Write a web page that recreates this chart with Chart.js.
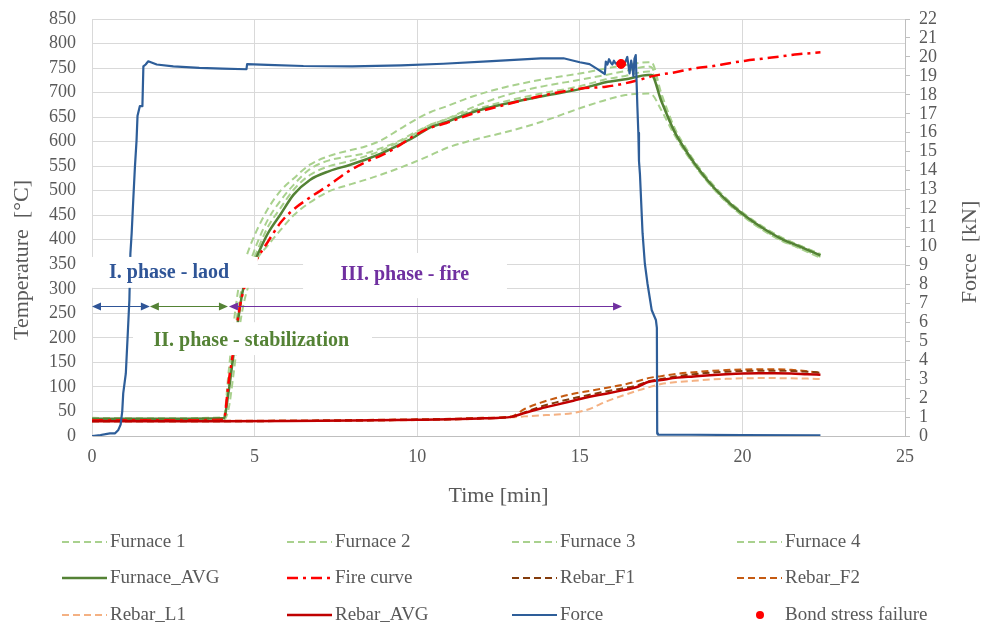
<!DOCTYPE html>
<html>
<head>
<meta charset="utf-8">
<script src="https://cdn.jsdelivr.net/npm/chart.js@4.4.1/dist/chart.umd.min.js"></script>
<style>
html,body{margin:0;padding:0;background:#ffffff;}
#wrap{width:983px;height:625px;}
</style>
</head>
<body>
<div id="wrap"><canvas id="c" width="983" height="625"></canvas></div>
<script>
// ---------- DATA ----------
const timeFurnace = [0, 2, 4.05, 4.2, 4.35, 4.5, 4.65, 4.85, 5.06, 5.4, 5.8, 6.2, 6.7, 7.3, 7.9, 8.4, 8.9, 9.4, 9.9, 10.4, 10.9, 11.7, 12.7, 13.8, 15.0, 15.8, 16.4, 17.1, 17.2, 17.5, 17.9, 18.2, 18.6, 19.1, 19.6, 20.1, 20.6, 21.2, 21.7, 22.4];
const furnace1 = [37, 36, 38, 130, 225, 300, 345, 385, 418, 462, 500, 525, 553, 571, 582, 590, 603, 623, 643, 660, 672, 692, 711, 726, 739, 749, 756, 762, 762, 700, 630, 594, 553, 512, 478, 451, 428, 405, 390, 370];
const furnace2 = [34, 34, 36, 105, 190, 262, 315, 352, 390, 440, 480, 512, 544, 562, 570, 576, 587, 600, 618, 634, 646, 670, 694, 712, 726, 736, 744, 753, 752, 693, 627, 591, 552, 511, 477, 450, 427, 404, 390, 371];
const furnace3 = [33, 33, 35, 95, 172, 248, 305, 342, 375, 425, 465, 502, 532, 550, 560, 570, 582, 598, 615, 634, 646, 664, 682, 698, 713, 727, 734, 743, 742, 688, 620, 585, 546, 505, 472, 445, 422, 399, 385, 365];
const furnace4 = [32, 32, 33, 55, 125, 205, 265, 315, 358, 388, 420, 450, 476, 499, 512, 522, 533, 545, 558, 572, 587, 603, 619, 640, 668, 685, 695, 698, 697, 665, 615, 583, 545, 505, 471, 444, 421, 398, 384, 363];
const furnaceAvg = [35, 35, 36, 90, 165, 240, 300, 335, 365, 412, 452, 492, 522, 540, 552, 563, 576, 592, 609, 629, 640, 660, 677, 692, 707, 721, 727, 736, 736, 684, 622, 588, 549, 508, 475, 448, 425, 402, 388, 368];
const fireCurve = [32, 32, 33, 110, 175, 245, 295, 330, 359, 395, 435, 462, 486, 512, 540, 558, 572, 590, 612, 628, 638, 657, 675, 693, 708, 712, 719, 731, 733, 737, 741, 745, 750, 754, 760, 765, 769, 774, 778, 782];

const timeRebar = [0, 2, 4, 6, 8, 10, 11, 12, 12.9, 13.3, 13.8, 14.3, 14.8, 15.3, 15.8, 16.3, 16.8, 17.1, 17.5, 18, 18.5, 19, 19.5, 20, 20.5, 21, 21.5, 22, 22.4];
const rebarF1 = [30, 30, 30, 30.5, 31.5, 33, 34, 36, 39, 48, 60, 69, 77, 84, 91, 97, 104, 111, 116, 122, 126, 129, 131, 132.5, 133, 133, 132.5, 131, 129];
const rebarF2 = [31, 31, 31, 31.5, 32.5, 34, 35, 37, 40, 55, 68, 78, 86, 92, 98, 104, 112, 118, 122, 127, 130, 132.5, 134.5, 135.5, 136, 136, 135, 132, 129];
const rebarL1 = [30, 30, 30, 30.5, 31, 32.5, 33.5, 35, 38, 40, 42, 44, 47, 55, 70, 82, 93, 99, 106, 110, 112.5, 115, 116.5, 117.5, 118, 118, 117.5, 117, 116];
const rebarAvg = [30, 30, 30, 30.5, 31.5, 33, 34, 36, 39, 47, 56, 64, 72, 80, 86, 93, 101, 110, 114, 119, 121.5, 124, 126, 127.5, 128, 128, 127.5, 126, 125];

const timeForce = [0, 0.26, 0.55, 0.71, 0.81, 0.88, 0.93, 0.96, 1.04, 1.1, 1.15, 1.18, 1.22, 1.27, 1.32, 1.37, 1.4, 1.47, 1.55, 1.58, 1.65, 1.73, 1.99, 2.5, 3.3, 4.0, 4.75, 4.77, 5.4, 6.5, 8, 9.5, 10.8, 12.3, 13.8, 14.5, 15.0, 15.3, 15.52, 15.7, 15.77, 15.8, 15.85, 15.9, 15.95, 16.0, 16.05, 16.1, 16.2, 16.3, 16.4, 16.46, 16.5, 16.53, 16.58, 16.62, 16.65, 16.68, 16.72, 16.75, 16.77, 16.8, 16.82, 16.85, 16.93, 17.0, 17.08, 17.21, 17.34, 17.37, 17.38, 17.4, 20, 22.4];
const forceKN = [0, 0.05, 0.14, 0.14, 0.32, 0.6, 1.3, 2.25, 3.3, 5.4, 7.2, 9.6, 10.7, 12.5, 14.2, 15.6, 16.9, 17.4, 17.4, 19.5, 19.6, 19.77, 19.6, 19.5, 19.42, 19.38, 19.35, 19.62, 19.58, 19.52, 19.5, 19.55, 19.64, 19.78, 19.92, 19.93, 19.72, 19.62, 19.38, 19.18, 19.1, 19.75, 19.6, 19.88, 19.7, 19.6, 19.8, 19.65, 19.7, 19.62, 19.73, 20.0, 19.5, 19.13, 19.8, 19.4, 18.97, 19.9, 20.1, 18.5, 17.4, 16.0, 14.5, 13.8, 10.7, 9.1, 8.06, 6.65, 6.12, 5.7, 0.14, 0.08, 0.05, 0.03];

const bondTime = [16.27];
const bondForce = [19.63];

const timeTicks = [0, 5, 10, 15, 20, 25];
const tempTicks = [0, 50, 100, 150, 200, 250, 300, 350, 400, 450, 500, 550, 600, 650, 700, 750, 800, 850];
const forceTicks = [0, 1, 2, 3, 4, 5, 6, 7, 8, 9, 10, 11, 12, 13, 14, 15, 16, 17, 18, 19, 20, 21, 22];

const phaseLabels = ['I. phase - laod', 'II. phase - stabilization', 'III. phase - fire'];
const phaseFrom = [0, 1.78, 4.21];
const phaseTo = [1.78, 4.18, 16.3];
const phaseArrowTemp = 265;

// ---------- HELPERS ----------
const pts = (xs, ys) => xs.map((x, i) => ({x: x, y: ys[i]}));
const SERIF = "'Liberation Serif', 'Times New Roman', serif";
const GRAY = '#595959';

const lightGreen = '#a9d18e';
const dashF = [7, 4];

function lineDs(label, xs, ys, color, width, dash, order, axis) {
  return {
    label: label,
    data: pts(xs, ys),
    borderColor: color,
    backgroundColor: color,
    borderWidth: width,
    borderDash: dash,
    pointRadius: 0,
    pointHoverRadius: 0,
    fill: false,
    cubicInterpolationMode: 'monotone',
    borderJoinStyle: 'round',
    yAxisID: axis || 'y',
    order: order
  };
}

const datasets = [
  lineDs('Furnace 1', timeFurnace, furnace1, lightGreen, 2, dashF, 8),
  lineDs('Furnace 2', timeFurnace, furnace2, lightGreen, 2, dashF, 8),
  lineDs('Furnace 3', timeFurnace, furnace3, lightGreen, 2, dashF, 8),
  lineDs('Furnace 4', timeFurnace, furnace4, lightGreen, 2, dashF, 8),
  lineDs('Furnace_AVG', timeFurnace, furnaceAvg, '#548235', 2.5, [], 6),
  lineDs('Fire curve', timeFurnace, fireCurve, '#ff0000', 2.5, [11, 5, 3, 5], 5),
  lineDs('Rebar_F1', timeRebar, rebarF1, '#843c0c', 2, dashF, 4),
  lineDs('Rebar_F2', timeRebar, rebarF2, '#c55a11', 2, dashF, 4),
  lineDs('Rebar_L1', timeRebar, rebarL1, '#f4b183', 2, dashF, 4),
  lineDs('Rebar_AVG', timeRebar, rebarAvg, '#c00000', 2.5, [], 3),
  Object.assign(lineDs('Force', timeForce, forceKN, '#2e5e99', 2.2, [], 2, 'yR'), {cubicInterpolationMode: 'default', tension: 0}),
  {
    label: 'Bond stress failure',
    data: pts(bondTime, bondForce),
    yAxisID: 'yR',
    showLine: false,
    pointRadius: 4.5,
    pointHoverRadius: 4.5,
    pointBackgroundColor: '#ff0000',
    pointBorderColor: '#ff0000',
    borderColor: '#ff0000',
    backgroundColor: '#ff0000',
    order: 0,
    isMarker: true
  }
];

// ---------- PLUGINS ----------
const phasePlugin = {
  id: 'phases',
  afterDatasetsDraw(chart, args, o) {
    const {ctx} = chart;
    const x = chart.scales.x, y = chart.scales.y;
    ctx.save();
    o.boxes.forEach(b => {
      const x0 = x.getPixelForValue(b.t0), x1 = x.getPixelForValue(b.t1);
      const y0 = y.getPixelForValue(b.T1), y1 = y.getPixelForValue(b.T0);
      ctx.fillStyle = '#ffffff';
      ctx.fillRect(x0, y0, x1 - x0, y1 - y0);
    });
    ctx.font = 'bold 20px ' + SERIF;
    ctx.textAlign = 'center';
    ctx.textBaseline = 'middle';
    phaseLabels.forEach((txt, i) => {
      ctx.fillStyle = o.colors[i];
      ctx.fillText(txt, x.getPixelForValue(o.textPos[i].t), y.getPixelForValue(o.textPos[i].T));
    });
    const yy = Math.round(y.getPixelForValue(phaseArrowTemp)) + 0.5;
    phaseFrom.forEach((t0, i) => {
      const xa = x.getPixelForValue(t0), xb = x.getPixelForValue(phaseTo[i]);
      ctx.strokeStyle = o.colors[i];
      ctx.fillStyle = o.colors[i];
      ctx.lineWidth = 1.2;
      ctx.beginPath(); ctx.moveTo(xa + 4, yy); ctx.lineTo(xb - 4, yy); ctx.stroke();
      const hl = 9, hw = 4;
      ctx.beginPath(); ctx.moveTo(xa, yy); ctx.lineTo(xa + hl, yy - hw); ctx.lineTo(xa + hl, yy + hw); ctx.closePath(); ctx.fill();
      ctx.beginPath(); ctx.moveTo(xb, yy); ctx.lineTo(xb - hl, yy - hw); ctx.lineTo(xb - hl, yy + hw); ctx.closePath(); ctx.fill();
    });
    ctx.restore();
  }
};

const titlePlugin = {
  id: 'yTitles',
  afterDraw(chart, args, o) {
    const {ctx} = chart;
    ctx.save();
    ctx.font = '22px ' + SERIF;
    ctx.fillStyle = GRAY;
    ctx.textAlign = 'center';
    ctx.textBaseline = 'middle';
    o.items.forEach(it => {
      ctx.save();
      ctx.translate(it.x, it.y);
      ctx.rotate(-Math.PI / 2);
      ctx.fillText(it.text, 0, 0);
      ctx.restore();
    });
    ctx.restore();
  }
};

const legendPlugin = {
  id: 'gridLegend',
  afterDraw(chart, args, o) {
    const {ctx} = chart;
    ctx.save();
    ctx.font = '19px ' + SERIF;
    ctx.textBaseline = 'middle';
    ctx.textAlign = 'left';
    chart.data.datasets.forEach((ds, i) => {
      const col = i % o.cols, row = Math.floor(i / o.cols);
      const tx = o.colX[col], ty = o.rowY[row];
      if (ds.isMarker) {
        ctx.fillStyle = ds.pointBackgroundColor;
        ctx.beginPath(); ctx.arc(tx - 25, ty, 4, 0, Math.PI * 2); ctx.fill();
      } else {
        ctx.strokeStyle = ds.borderColor;
        ctx.lineWidth = ds.borderWidth;
        ctx.setLineDash(ds.borderDash || []);
        ctx.beginPath(); ctx.moveTo(tx - o.swatch - 3, ty); ctx.lineTo(tx - 3, ty); ctx.stroke();
        ctx.setLineDash([]);
      }
      ctx.fillStyle = GRAY;
      ctx.fillText(ds.label, tx, ty);
    });
    ctx.restore();
  }
};

// ---------- CHART ----------
new Chart(document.getElementById('c'), {
  type: 'line',
  data: {datasets: datasets},
  options: {
    responsive: false,
    devicePixelRatio: 1,
    animation: false,
    events: [],
    layout: {padding: {left: 0, right: 0, top: 19, bottom: 114}},
    plugins: {
      legend: {display: false},
      tooltip: {enabled: false},
      phases: {
        colors: ['#2f5597', '#548235', '#7030a0'],
        boxes: [
          {t0: -0.05, t1: 5.1, T0: 302, T1: 365},
          {t0: 1.26, t1: 8.61, T0: 165, T1: 232},
          {t0: 6.49, t1: 12.76, T0: 281, T1: 373}
        ],
        textPos: [{t: 2.37, T: 332}, {t: 4.9, T: 195}, {t: 9.62, T: 328}]
      },
      yTitles: {
        items: [
          {text: 'Temperature  [°C]', x: 22, y: 260},
          {text: 'Force  [kN]', x: 970, y: 252}
        ]
      },
      gridLegend: {
        cols: 4,
        colX: [110, 335, 560, 785],
        rowY: [542, 578, 615],
        swatch: 45
      }
    },
    scales: {
      x: {
        type: 'linear',
        min: 0, max: 25,
        afterBuildTicks: s => { s.ticks = timeTicks.map(v => ({value: v})); },
        afterFit: s => { s.height = 75; },
        grid: {color: '#d9d9d9', lineWidth: 1, drawTicks: false},
        border: {display: true, color: '#bfbfbf'},
        ticks: {color: GRAY, font: {family: SERIF, size: 18}, padding: 10, maxRotation: 0, autoSkip: false},
        title: {display: true, text: 'Time [min]', color: GRAY, font: {family: SERIF, size: 22}, padding: {top: 0, bottom: 2}}
      },
      y: {
        type: 'linear',
        position: 'left',
        min: 0, max: 850,
        afterBuildTicks: s => { s.ticks = tempTicks.map(v => ({value: v})); },
        afterFit: s => { s.width = 92; },
        grid: {color: '#d9d9d9', lineWidth: 1, drawTicks: true, tickLength: 13, tickColor: 'rgba(0,0,0,0)'},
        border: {display: true, color: '#d9d9d9'},
        ticks: {color: GRAY, font: {family: SERIF, size: 18, lineHeight: 1}, padding: 3, autoSkip: false}
      },
      yR: {
        type: 'linear',
        position: 'right',
        min: 0, max: 22,
        afterBuildTicks: s => { s.ticks = forceTicks.map(v => ({value: v})); },
        afterFit: s => { s.width = 78; },
        grid: {drawOnChartArea: false, drawTicks: true, tickLength: 5, color: '#bfbfbf'},
        border: {display: true, color: '#bfbfbf'},
        ticks: {color: GRAY, font: {family: SERIF, size: 18, lineHeight: 1}, padding: 9, autoSkip: false}
      }
    }
  },
  plugins: [phasePlugin, titlePlugin, legendPlugin]
});
</script>
</body>
</html>
